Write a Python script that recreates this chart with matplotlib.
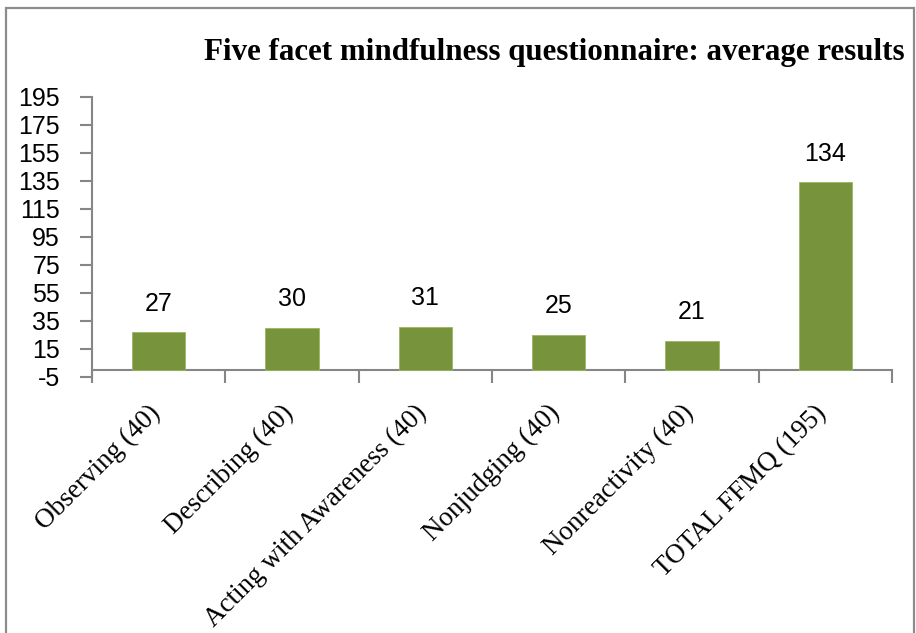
import matplotlib
matplotlib.use("Agg")
import matplotlib.pyplot as plt
from matplotlib.patches import Rectangle
from matplotlib.transforms import ScaledTranslation
from matplotlib import font_manager

categories = ["Observing (40)", "Describing (40)", "Acting with Awareness (40)",
              "Nonjudging (40)", "Nonreactivity (40)", "TOTAL FFMQ (195)"]
values = [27, 30, 31, 25, 21, 134]
yticks = [-5, 15, 35, 55, 75, 95, 115, 135, 155, 175, 195]
title = "Five facet mindfulness questionnaire: average results"

names = {f.name for f in font_manager.fontManager.ttflist}
num_font = "Liberation Sans Narrow" if "Liberation Sans Narrow" in names else "Liberation Sans"
serif_font = "Liberation Serif"

W, H = 916, 633
fig = plt.figure(figsize=(W / 100, H / 100), dpi=100)
fig.patch.set_facecolor("white")

# outer border (bottom edge out of view)
fig.patches.append(Rectangle((6 / W, -0.05), (914 - 6) / W, (1 - 8 / H) + 0.05,
                             transform=fig.transFigure, fill=False,
                             edgecolor="#8c8c8c", linewidth=1.6))

left, right = 92 / W, 892 / W
bottom, top = 1 - 377 / H, 1 - 97 / H
ax = fig.add_axes([left, bottom, right - left, top - bottom])

x = list(range(len(categories)))
ax.bar(x, values, width=0.4, color="#77933C", edgecolor="#9bb55f", linewidth=0.6, zorder=3)

ax.set_xlim(-0.5, len(categories) - 0.5)
ax.set_ylim(-5, 195)

axis_col = "#868686"
for s in ["top", "right"]:
    ax.spines[s].set_visible(False)
ax.spines["left"].set_color(axis_col)
ax.spines["left"].set_linewidth(1.5)
ax.spines["bottom"].set_color(axis_col)
ax.spines["bottom"].set_linewidth(1.5)
ax.spines["bottom"].set_position(("data", 0))

ax.set_yticks(yticks)
ax.set_yticklabels([str(v) for v in yticks], fontfamily=num_font, fontsize=18)
ax.tick_params(axis="y", length=9, width=1.5, color=axis_col, pad=14)

ax.set_xticks([i - 0.5 for i in range(len(categories) + 1)])
ax.set_xticklabels([])
ax.tick_params(axis="x", which="major", length=9, width=1.5, color=axis_col)
ax.set_xticks(x, minor=True)
ax.set_xticklabels(categories, minor=True, rotation=45, ha="right",
                   rotation_mode="anchor", fontfamily=serif_font, fontsize=19.5)
ax.tick_params(axis="x", which="minor", length=0, pad=22)
shift = ScaledTranslation(-0.11, 0.0, fig.dpi_scale_trans)
for lab in ax.get_xticklabels(minor=True):
    lab.set_transform(lab.get_transform() + shift)

for xi, v in zip(x, values):
    ax.annotate(str(v), (xi, v), xytext=(0, 12), textcoords="offset points",
                ha="center", va="bottom", fontfamily=num_font, fontsize=18)

fig.text(905 / W, 1 - 60 / H, title, ha="right", va="baseline",
         fontfamily=serif_font, fontsize=22.3, fontweight="bold")

fig.savefig("out.png", dpi=100)
